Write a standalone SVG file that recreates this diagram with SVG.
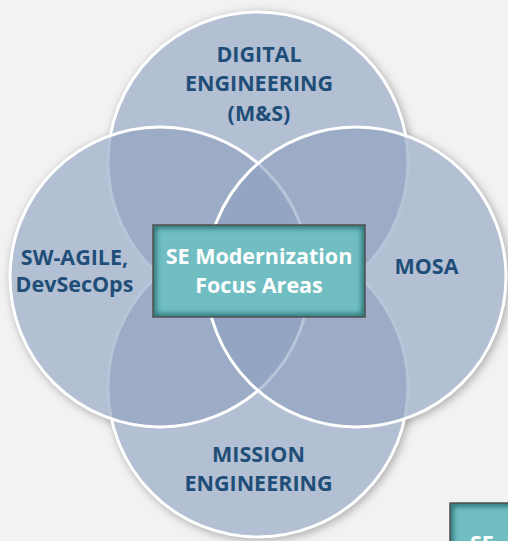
<svg xmlns="http://www.w3.org/2000/svg" width="508" height="541" viewBox="0 0 508 541">
  <defs>
    <filter id="soft-shadow" x="-20%" y="-20%" width="140%" height="140%">
      <feGaussianBlur stdDeviation="4"/>
    </filter>
    <filter id="edge-blur" x="-10%" y="-10%" width="120%" height="120%">
      <feGaussianBlur stdDeviation="2.5"/>
    </filter>
    <clipPath id="center-box-clip">
      <rect x="153" y="225" width="212" height="92"/>
    </clipPath>
    <clipPath id="corner-box-clip">
      <rect x="450" y="503" width="212" height="92"/>
    </clipPath>
  </defs>
  <style>
    .area { fill: rgb(143,161,191); fill-opacity: 0.63; stroke: #ffffff; stroke-width: 3; }
    .base { fill: #f2f2f2; }
    .shade { fill: #7a7a7a; opacity: 0.55; }
    .label { font-family: "Open Sans", "Liberation Sans", sans-serif; font-weight: bold; font-size: 21.5px; fill: #1f4e79; text-anchor: middle; }
    .title { font-family: "Open Sans", "Liberation Sans", sans-serif; font-weight: bold; font-size: 21.5px; fill: #ffffff; text-anchor: middle; }
    .box-fill { fill: #70bec2; }
    .box-glow { fill: none; stroke: #2f7478; stroke-width: 7; }
    .box-line { fill: none; stroke: #505050; stroke-width: 1.5; }
  </style>

  <rect width="508" height="541" fill="#f2f2f2"/>

  <!-- soft shadow under the four circles, then an opaque base so the shadow stays outside -->
  <g filter="url(#soft-shadow)" transform="translate(2,2)">
    <circle class="shade" cx="258" cy="162" r="152"/>
    <circle class="shade" cx="258" cy="387" r="152"/>
    <circle class="shade" cx="160" cy="277" r="152"/>
    <circle class="shade" cx="356" cy="277" r="152"/>
  </g>
  <g>
    <circle class="base" cx="258" cy="162" r="150"/>
    <circle class="base" cx="258" cy="387" r="150"/>
    <circle class="base" cx="160" cy="277" r="150"/>
    <circle class="base" cx="356" cy="277" r="150"/>
  </g>

  <g id="digital-engineering">
    <circle class="area" cx="258" cy="162" r="150"/>
  </g>
  <g id="mission-engineering">
    <circle class="area" cx="258" cy="387" r="150"/>
  </g>
  <g id="sw-agile">
    <circle class="area" cx="160" cy="277" r="150"/>
  </g>
  <g id="mosa">
    <circle class="area" cx="356" cy="277" r="150"/>
  </g>

  <!-- labels of the four areas -->
  <g id="area-labels">
    <text class="label" x="259" y="61.5">DIGITAL</text>
    <text class="label" x="259" y="91">ENGINEERING</text>
    <text class="label" x="259" y="120.5">(M&amp;S)</text>
    <text class="label" x="74.5" y="264.5">SW-AGILE,</text>
    <text class="label" x="74.5" y="291.5">DevSecOps</text>
    <text class="label" x="426.5" y="274">MOSA</text>
    <text class="label" x="258.5" y="461.5">MISSION</text>
    <text class="label" x="258.5" y="490.5">ENGINEERING</text>
  </g>

  <!-- central title box -->
  <g id="focus-areas">
    <rect class="box-fill" x="153" y="225" width="212" height="92"/>
    <g clip-path="url(#center-box-clip)">
      <rect class="box-glow" x="153" y="225" width="212" height="92" filter="url(#edge-blur)"/>
    </g>
    <rect class="box-line" x="153" y="225" width="212" height="92"/>
    <text class="title" x="259" y="264">SE Modernization</text>
    <text class="title" x="259" y="292.5">Focus Areas</text>
  </g>

  <!-- second title box, cut by the lower right edge -->
  <g id="focus-areas-copy">
    <rect class="box-fill" x="450" y="503" width="212" height="92"/>
    <g clip-path="url(#corner-box-clip)">
      <rect class="box-glow" x="450" y="503" width="212" height="92" filter="url(#edge-blur)"/>
    </g>
    <rect class="box-line" x="450" y="503" width="212" height="92"/>
    <text class="title" x="470" y="550.5" style="text-anchor:start">SE</text>
  </g>

  <g id="connectors"/>
</svg>
